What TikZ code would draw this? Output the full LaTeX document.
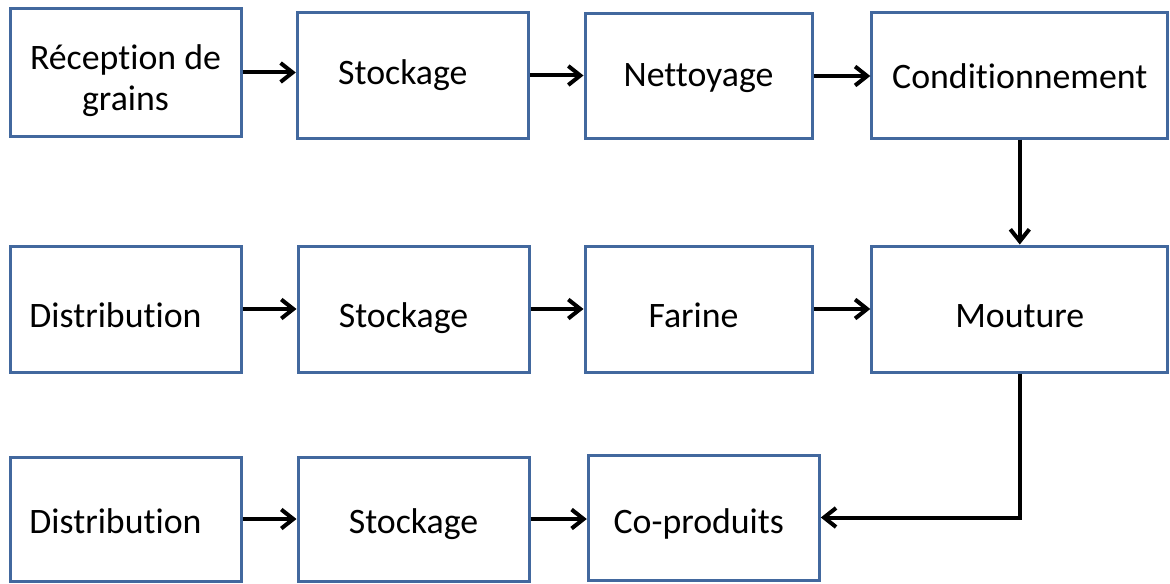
\documentclass[tikz,border=0pt]{standalone}
\usepackage{fontspec}
\setmainfont{Carlito}[Ligatures={NoCommon}]
\usetikzlibrary{arrows.meta}

\definecolor{boxblue}{RGB}{66,104,158}

\begin{document}
\begin{tikzpicture}[x=0.5pt, y=-0.5pt,
    boite/.style = {draw=boxblue, line width=1.5pt, fill=white,
      inner sep=0pt, minimum width=115.5pt, minimum height=63pt,
      align=center, font=\fontsize{17.9}{20.5}\selectfont},
    etape/.style = {boite, text height=#1, text depth=0pt},
    etape/.default = 18pt,
    fleche/.style = {line width=2pt,
      -{Straight Barb[length=6pt, width=9.5pt, line width=2pt]}}]
  \useasboundingbox (0,0) rectangle (1170,583);

  % premiere ligne
  \node[boite, minimum height=64pt] (recep) at (125.5,72.5)
    {\rule{0pt}{21pt}Réception de\\grains};
  \node[etape=8.5pt, minimum height=62.5pt] (stock1) at (412.8,75.5) {Stockage\hspace{10pt}};
  \node[etape=10.5pt, minimum width=113.5pt, minimum height=62.5pt] (nett) at (698.5,76) {Nettoyage};
  \node[etape=13.5pt, minimum width=148pt, minimum height=62.5pt] (cond) at (1019.8,75.5) {Conditionnement};

  % deuxieme ligne
  \node[etape] (distrib2) at (125.5,309) {Distribution\hspace{10pt}};
  \node[etape] (stock2) at (413.5,309) {Stockage\hspace{10pt}};
  \node[etape, minimum width=113.5pt] (farine) at (698.5,309) {Farine\hspace{5pt}};
  \node[etape, minimum width=148pt] (mout) at (1019.8,309) {Mouture};

  % troisieme ligne
  \node[etape=14pt, minimum height=62pt] (distrib3) at (125.5,519) {Distribution\hspace{10pt}};
  \node[etape=14pt, minimum height=62pt] (stock3) at (413.5,519) {Stockage};
  \node[etape=15.5pt, minimum height=62.5pt] (coprod) at (703.8,517.5) {Co-produits\hspace{5pt}};

  % fleches
  \draw[fleche] (recep.east) -- (recep.east -| stock1.west);
  \draw[fleche] (stock1.east) -- (stock1.east -| nett.west);
  \draw[fleche] (nett.east) -- (nett.east -| cond.west);
  \draw[fleche] (cond.south) -- (mout.north);
  \draw[fleche] (distrib2.east) -- (distrib2.east -| stock2.west);
  \draw[fleche] (stock2.east) -- (stock2.east -| farine.west);
  \draw[fleche] (farine.east) -- (farine.east -| mout.west);
  \draw[fleche] (mout.south) |- (coprod.east);
  \draw[fleche] (distrib3.east) -- (distrib3.east -| stock3.west);
  \draw[fleche] (stock3.east) -- (stock3.east -| coprod.west);
\end{tikzpicture}
\end{document}
